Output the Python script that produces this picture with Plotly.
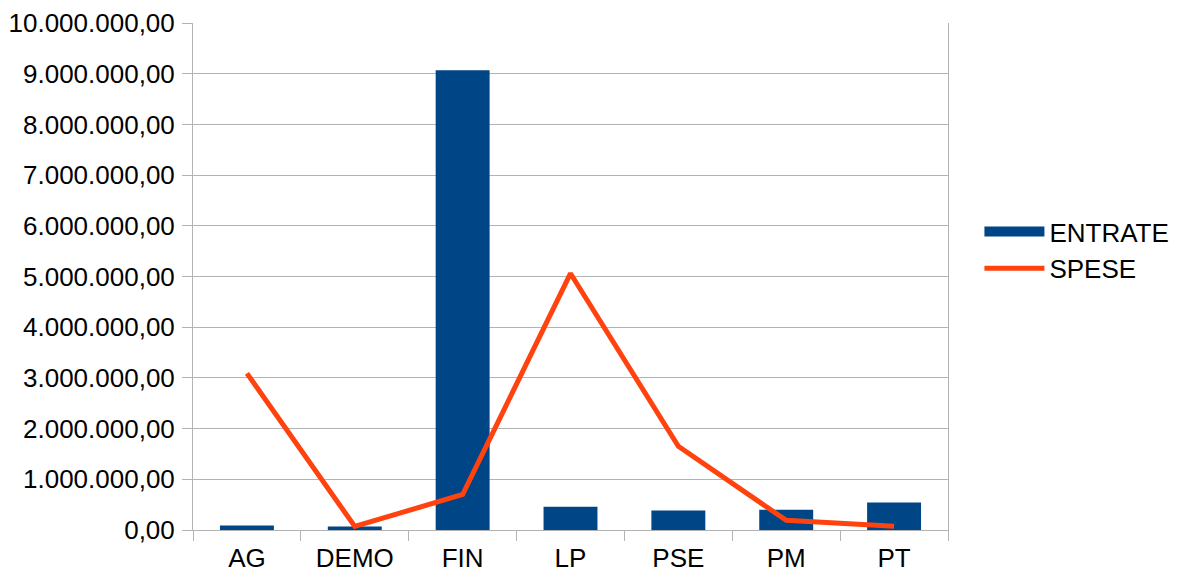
import plotly.graph_objects as go

categories = ["AG", "DEMO", "FIN", "LP", "PSE", "PM", "PT"]
entrate = [90000, 70000, 9070000, 460000, 385000, 400000, 540000]
spese = [3090000, 70000, 700000, 5060000, 1650000, 190000, 75000]
yticks = [0, 1000000, 2000000, 3000000, 4000000, 5000000, 6000000, 7000000, 8000000, 9000000, 10000000]

font = "Liberation Sans, Arial, sans-serif"
grid = "#b3b3b3"
blue = "#004586"
orange = "#ff420e"

fig = go.Figure()
fig.add_trace(go.Bar(x=categories, y=entrate, name="ENTRATE", marker_color=blue,
                     marker_line_width=0, showlegend=False, legendgroup="e"))
# legend-only entry to mimic the wide rectangle key of the original
fig.add_trace(go.Scatter(x=[None], y=[None], name="ENTRATE", mode="lines",
                         line=dict(color=blue, width=16), legendgroup="e"))
fig.add_trace(go.Scatter(x=categories, y=spese, name="SPESE", mode="lines",
                         line=dict(color=orange, width=5)))

fig.update_layout(
    width=1162, height=567,
    margin=dict(l=185, r=222, t=15, b=45),
    paper_bgcolor="white", plot_bgcolor="white",
    separators=",.",
    bargap=0.5,
    font=dict(family=font, size=26, color="#000000"),
    showlegend=True,
    legend=dict(xref="container", yref="container", x=0.836, y=0.573,
                xanchor="left", yanchor="middle",
                font=dict(size=26), tracegroupgap=0, itemwidth=60),
)
fig.update_xaxes(type="category", showline=True, linecolor=grid, linewidth=1,
                 ticks="outside", tickson="boundaries", ticklen=10, tickcolor=grid,
                 showgrid=False, tickfont=dict(size=26), automargin=False,
                 ticklabelstandoff=5)
fig.update_yaxes(range=[0, 10000000], tickvals=yticks, tickformat=",.2f",
                 showline=True, linecolor=grid, linewidth=1, mirror=True,
                 ticks="outside", ticklen=10, tickcolor=grid,
                 showgrid=True, gridcolor=grid, gridwidth=1, zeroline=False,
                 tickfont=dict(size=26), automargin=False, ticklabelstandoff=2)

fig.write_html("out.html")
